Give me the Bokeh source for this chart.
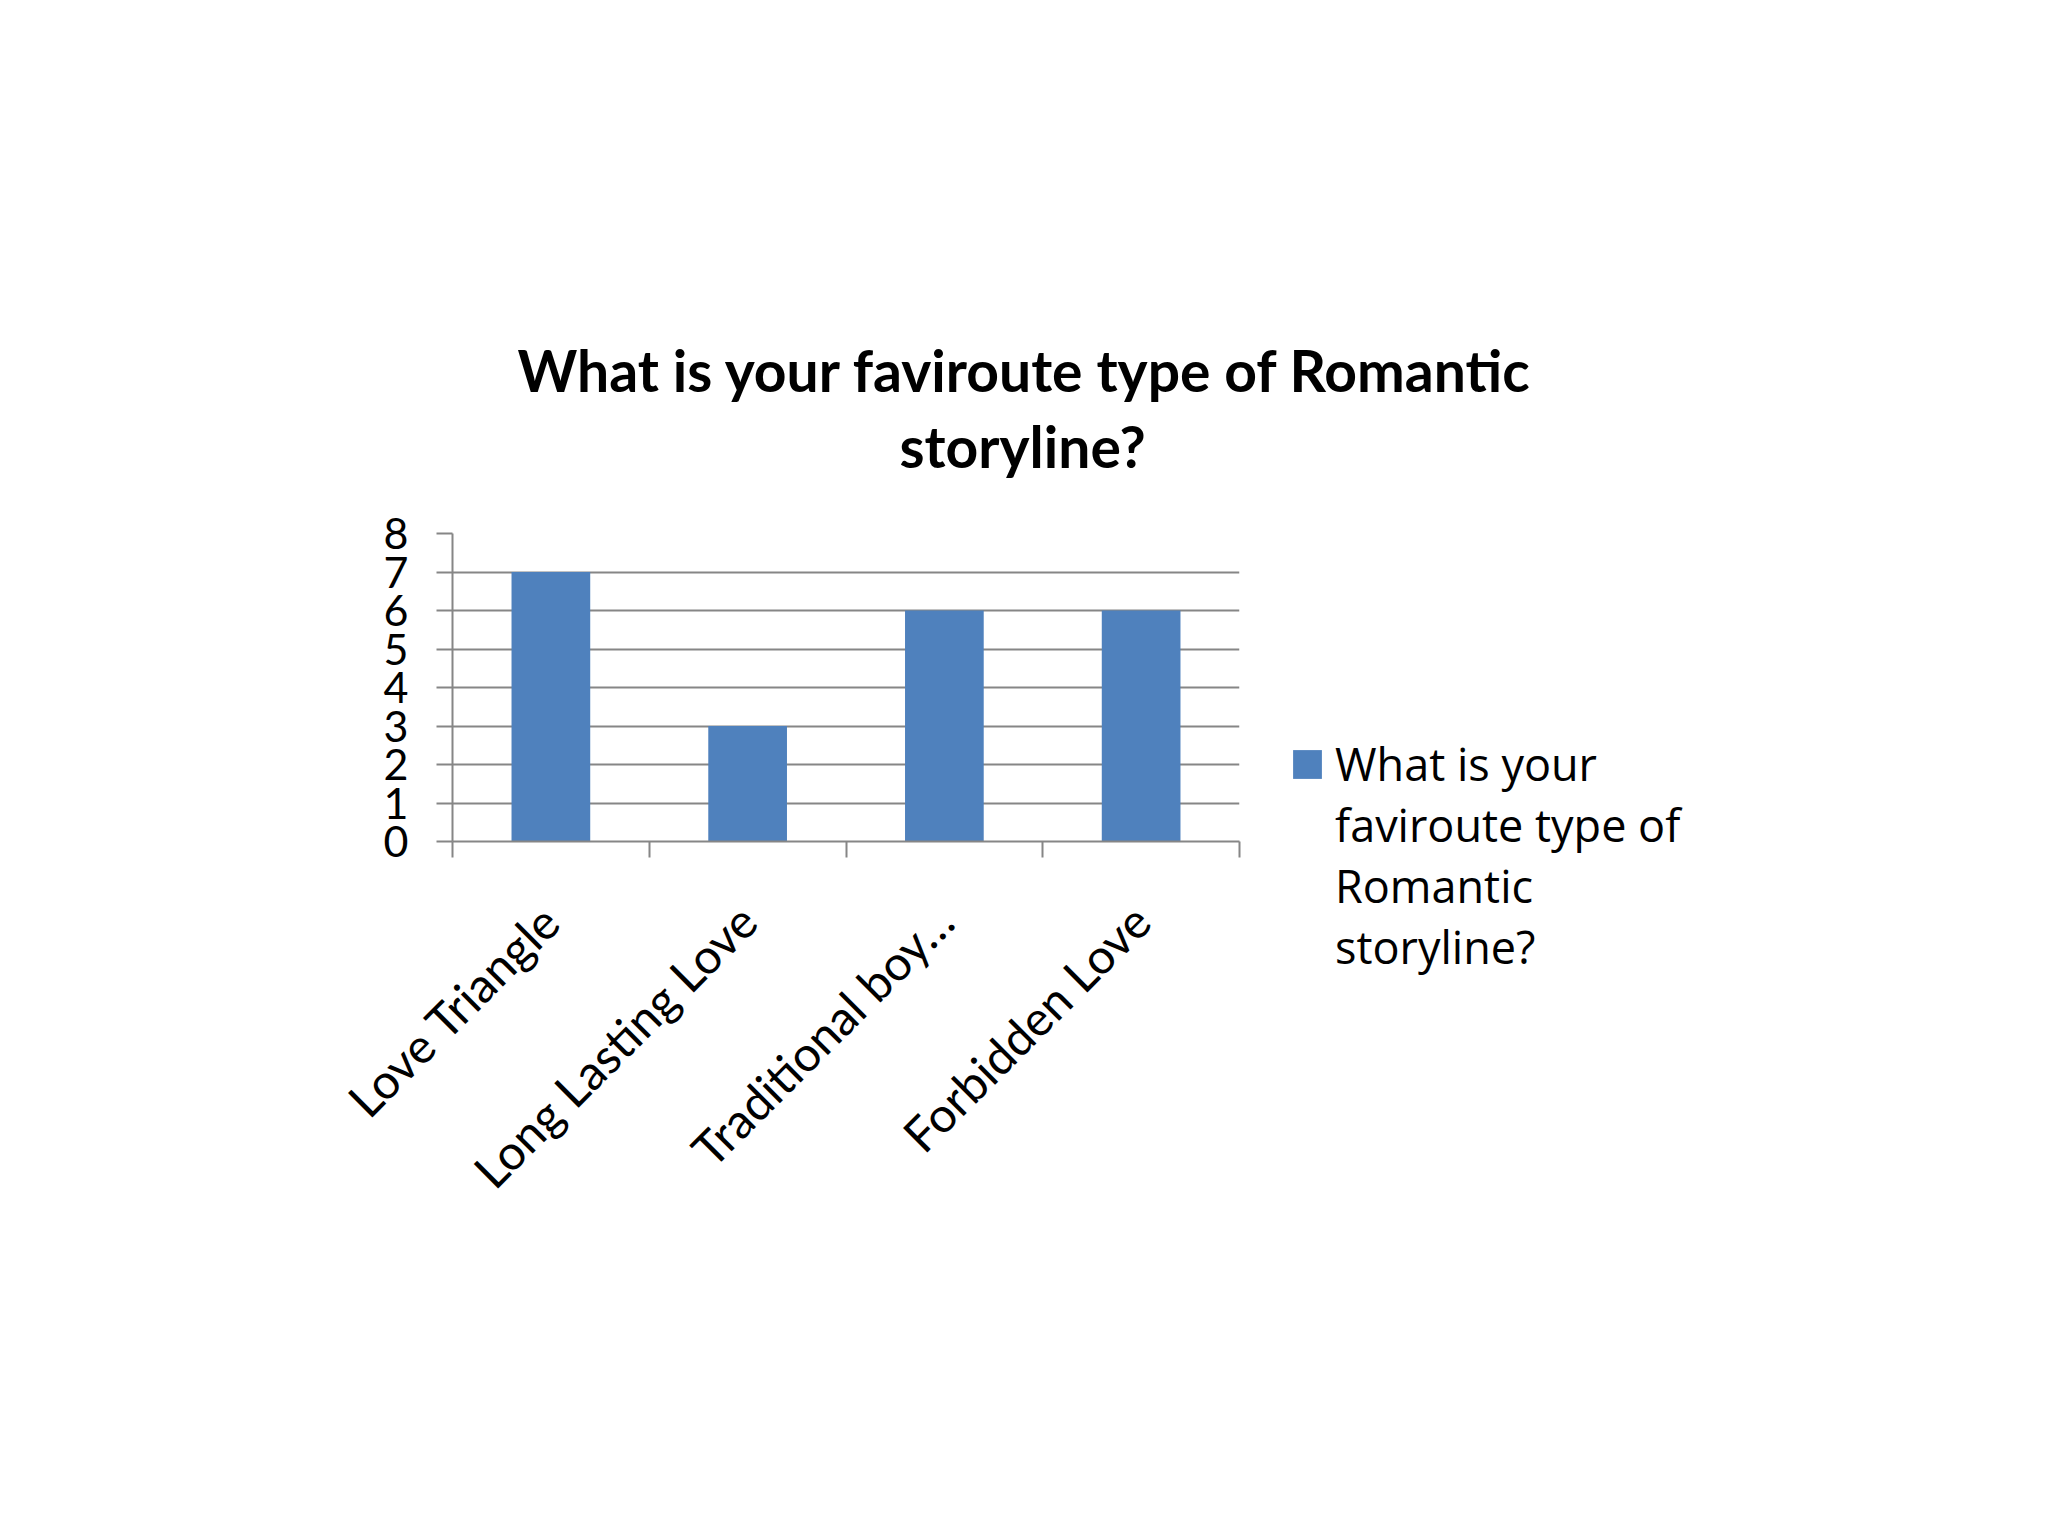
from bokeh.plotting import figure
from bokeh.embed import file_html
from bokeh.resources import INLINE
from bokeh.models import Range1d, FixedTicker, Legend, LegendItem, Title

categories = ["Love Triangle", "Long Lasting Love", "Traditional boy\u2026", "Forbidden Love"]
votes = [7, 3, 6, 6]
y_ticks = [0, 1, 2, 3, 4, 5, 6, 7, 8]
series_lines = ["What is your", "faviroute type of", "Romantic", "storyline?"]
title_lines = ["What is your faviroute type of Romantic", "storyline?"]

FONT = "Lato"
BLUE = "#4F81BD"
GRAY = "#868686"

p = figure(frame_width=787, frame_height=308, output_backend="svg", toolbar_location=None,
           x_range=Range1d(0, len(categories)), y_range=Range1d(0, y_ticks[-1]),
           min_border_left=452, min_border_right=500, min_border_top=533, min_border_bottom=679)
p.title = None
p.outline_line_color = None
p.background_fill_color = "white"
p.border_fill_color = "white"

centers = [i + 0.5 for i in range(len(categories))]
bars = p.vbar(x=centers, top=votes, width=0.4, fill_color=BLUE, line_color=None)

# y axis
p.yaxis.ticker = FixedTicker(ticks=y_ticks)
p.yaxis.axis_line_color = GRAY
p.yaxis.axis_line_width = 2
p.yaxis.major_tick_line_color = GRAY
p.yaxis.major_tick_line_width = 2
p.yaxis.major_tick_out = 16
p.yaxis.major_tick_in = 0
p.yaxis.minor_tick_line_color = None
p.yaxis.major_label_standoff = 28
p.yaxis.major_label_text_font = FONT
p.yaxis.major_label_text_font_size = "43px"
p.yaxis.major_label_text_color = "black"

p.ygrid.ticker = FixedTicker(ticks=y_ticks)
p.ygrid.grid_line_color = GRAY
p.ygrid.grid_line_width = 2
p.xgrid.grid_line_color = None

# x axis: labels at centres, ticks on category boundaries
p.xaxis.ticker = FixedTicker(ticks=centers, minor_ticks=list(range(len(categories) + 1)))
p.xaxis.major_label_overrides = {c: name for c, name in zip(centers, categories)}
p.xaxis.major_label_orientation = 0.785398
p.xaxis.axis_line_color = GRAY
p.xaxis.axis_line_width = 2
p.xaxis.major_tick_out = 0
p.xaxis.major_tick_in = 0
p.xaxis.minor_tick_out = 16
p.xaxis.minor_tick_in = 0
p.xaxis.minor_tick_line_color = GRAY
p.xaxis.minor_tick_line_width = 2
p.xaxis.major_label_standoff = 55
p.xaxis.major_label_text_font = FONT
p.xaxis.major_label_text_font_size = "48px"
p.xaxis.major_label_text_color = "black"

# titles stack outward from the frame: a thin spacer first, then line 2, then line 1
p.add_layout(Title(text=" ", text_font_size="1px", standoff=45), "above")
for line, off, gap in [(title_lines[1], 447, 12), (title_lines[0], 65, 0)]:
    p.add_layout(Title(text=line, align="left", offset=off, standoff=gap,
                       text_font=FONT, text_font_size="57px", text_font_style="bold",
                       text_color="black"), "above")

# blank lines in front keep the swatch level with the first line of the label
label = "\n\n\n" + "\n".join(series_lines)
legend = Legend(items=[LegendItem(label=label, renderers=[bars])],
                location=(50, -136), border_line_color=None, background_fill_alpha=0,
                padding=0, margin=0, glyph_width=36, glyph_height=36, label_standoff=10,
                label_text_font="Open Sans", label_text_font_size="45px",
                label_text_color="black")
p.add_layout(legend, "right")

open("out.html", "w").write(file_html(p, INLINE))
